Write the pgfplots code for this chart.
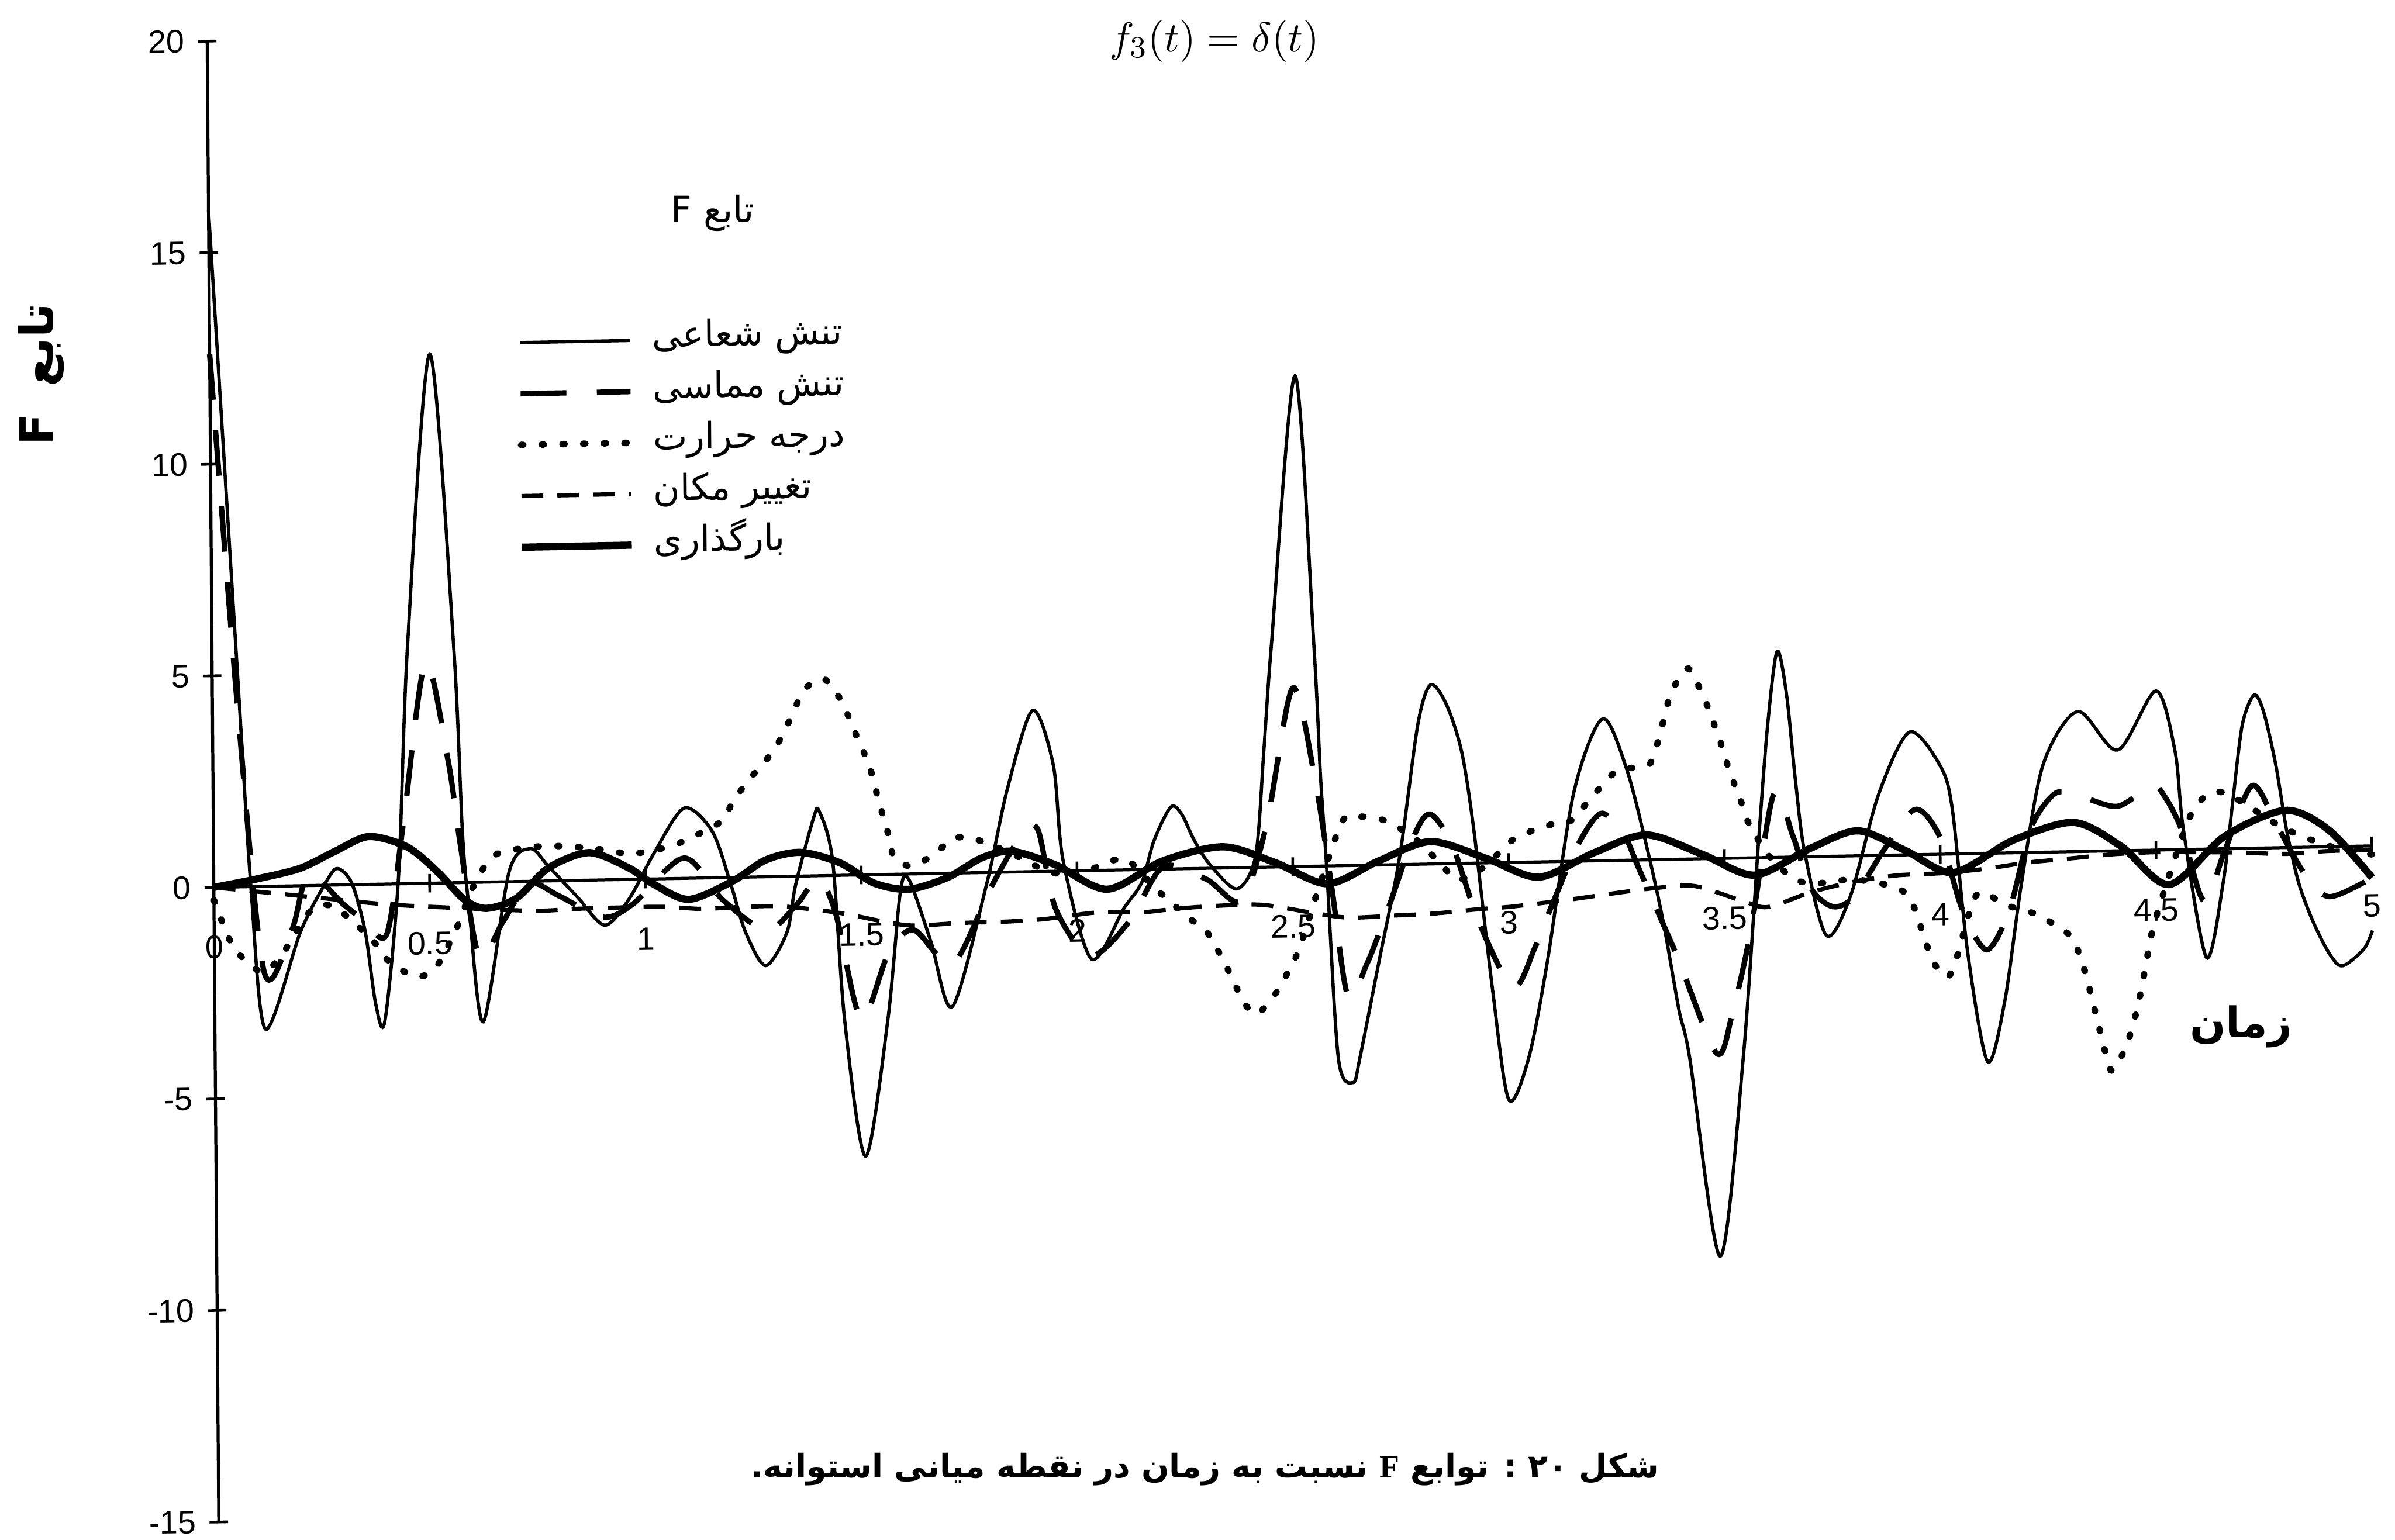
\documentclass[border=0pt]{standalone}
\usepackage{fontspec}
\usepackage{pgfplots}
\pgfplotsset{compat=1.18}
\setmainfont{Liberation Sans}
\newfontfamily\arabicfont[Script=Arabic]{DejaVu Sans}
\newfontfamily\seriffont{Liberation Serif}
\TeXXeTstate=1

\begin{document}
\begin{tikzpicture}
\useasboundingbox (0,0) rectangle (22cm,14.143cm);
% the printed page sits slightly skewed: the time axis climbs about 1.1 degrees,
% the value axis leans about 0.45 degrees; the axis is drawn with the same skew
\begin{scope}[transform canvas={cm={0.99982,0.0192,-0.00785,0.99997,(0.04738cm,-0.03753cm)}}]
\begin{axis}[
  at={(1.964cm,5.991cm)}, anchor=origin,
  scale only axis, width=19.826cm, height=13.604cm,
  xmin=0, xmax=5, ymin=-15, ymax=20,
  enlargelimits=false, clip=false,
  axis lines=middle, axis line style={-, line width=0.8pt},
  hide obscured x ticks=false, hide obscured y ticks=false,
  xtick={0,0.5,1,1.5,2,2.5,3,3.5,4,4.5,5},
  xticklabels={0,0.5,1,1.5,2,2.5,3,3.5,4,4.5,5},
  ytick={-15,-10,-5,0,5,10,15,20},
  yticklabels={-15,-10,-5,0,5,10,15,20},
  tick align=center, major tick length=0.17cm,
  tick style={line width=0.7pt, black},
  xticklabel style={anchor=center, yshift=-0.466cm, font=\fontsize{8.5}{10}\selectfont},
  yticklabel style={anchor=east, xshift=0cm, font=\fontsize{8.5}{10}\selectfont},
  legend style={at={(axis cs:0.683,13.32)}, anchor=north west, draw=none, fill=none,
    font=\fontsize{9.5}{11}\selectfont, row sep=0.17cm, column sep=0.17cm,
    nodes={inner sep=0pt, text height=0.22cm, text depth=0.08cm}},
  legend cell align=left,
  legend image code/.code={\draw[#1] (0cm,0cm) -- (1.01cm,0cm);},
]
% radial stress
\addplot[black, line width=0.85pt, smooth, tension=0.5] coordinates {
(0,16.0) (0.059,4.99) (0.086,-0.02) (0.117,-3.37) (0.2,-1.09) (0.257,0.02) (0.286,0.39)
(0.32,0.03) (0.35,-1.12) (0.373,-2.83) (0.394,-3.23) (0.428,0.16) (0.453,5.6) (0.51,12.5)
(0.56,5.59) (0.577,1.18) (0.591,-0.61) (0.622,-3.3) (0.684,0.22) (0.734,0.77) (0.776,0.34)
(0.841,-0.38) (0.905,-1.07) (0.962,-0.46) (1.02,0.6) (1.091,1.66) (1.156,1.09) (1.198,-0.17)
(1.231,-1.3) (1.277,-2.1) (1.327,-1.32) (1.348,-0.2) (1.391,1.38) (1.404,1.52) (1.434,0.35)
(1.459,-3.42) (1.505,-6.65) (1.559,-3.44) (1.59,-0.45) (1.61,-0.12) (1.66,-1.6) (1.709,-3.15)
(1.79,-0.29) (1.84,1.96) (1.9,3.81) (1.947,2.51) (1.968,0.25) (2.032,-2.09) (2.108,-0.91)
(2.15,-0.3) (2.179,0.68) (2.218,1.46) (2.243,1.3) (2.272,0.67) (2.307,0.1) (2.37,-0.5)
(2.414,0.27) (2.435,2.75) (2.454,5.2) (2.514,11.6) (2.553,5.19) (2.566,2.09) (2.578,0.04)
(2.602,-4.54) (2.636,-5.13) (2.652,-4.55) (2.698,-2.28) (2.748,0.2) (2.792,3.29) (2.822,4.23)
(2.858,3.78) (2.893,2.65) (2.92,0.79) (2.96,-2.95) (2.996,-5.6) (3.043,-4.63) (3.088,-2.36)
(3.152,1.61) (3.22,3.35) (3.275,2.16) (3.323,0.19) (3.358,-1.52) (3.392,-3.56) (3.416,-4.7)
(3.483,-9.4) (3.54,-4.73) (3.58,0.46) (3.603,3.17) (3.626,4.87) (3.647,3.84) (3.666,1.81)
(3.686,0.11) (3.735,-1.87) (3.792,-0.93) (3.858,1.43) (3.931,2.9) (4.002,2.08) (4.029,1.05)
(4.062,-2.34) (4.106,-4.92) (4.147,-3.5) (4.188,-0.71) (4.24,2.07) (4.321,3.31) (4.413,2.38)
(4.503,3.76) (4.546,2.32) (4.564,0.46) (4.615,-2.56) (4.655,-0.8) (4.678,1.05) (4.702,2.91)
(4.73,3.62) (4.752,3.21) (4.779,1.96) (4.803,0.41) (4.83,-0.84) (4.863,-1.77) (4.9,-2.53)
(4.93,-2.82) (4.98,-2.43) (5.0,-2.0)
};
\addlegendentry{\arabicfont\beginR تنش شعاعی\endR}
% tangential stress
\addplot[black, line width=1.4pt, dash pattern=on 0.42cm off 0.28cm, smooth, tension=0.5] coordinates {
(0,12.6) (0.06,4.0) (0.115,-2.02) (0.18,-1.04) (0.22,0.26) (0.3,-0.46) (0.35,-0.87)
(0.40,-1.18) (0.44,1.41) (0.494,5.2) (0.545,2.89) (0.572,0.89) (0.613,-1.74) (0.67,-0.93)
(0.73,-0.05) (0.8,-0.36) (0.9,-0.88) (0.97,-0.59) (1.09,0.48) (1.18,-0.54) (1.28,-1.26)
(1.35,-0.67) (1.40,-0.08) (1.44,-0.89) (1.497,-3.4) (1.56,-1.91) (1.62,-1.32) (1.71,-2.14)
(1.8,-0.36) (1.87,0.83) (1.91,0.99) (1.95,-0.89) (2.03,-2.01) (2.12,-1.22) (2.2,0.06)
(2.3,-0.26) (2.38,-0.78) (2.44,1.01) (2.503,4.22) (2.554,1.99) (2.59,-0.52) (2.625,-3.07)
(2.67,-2.33) (2.72,-1.04) (2.78,0.64) (2.819,1.18) (2.87,0.43) (2.93,-1.39) (3.008,-2.95)
(3.06,-2.01) (3.1,-1.02) (3.16,0.37) (3.216,1.12) (3.27,0.55) (3.3,-0.16) (3.39,-2.33)
(3.478,-4.6) (3.515,-3.7) (3.56,-1.71) (3.615,1.48) (3.66,0.47) (3.7,-0.74) (3.75,-1.19)
(3.8,-0.96) (3.87,0.13) (3.943,1.07) (4.0,0.4) (4.05,-1.31) (4.106,-2.28) (4.16,-1.33)
(4.21,0.56) (4.264,1.36) (4.31,1.37) (4.41,1.05) (4.49,1.52) (4.52,1.28) (4.56,0.46)
(4.61,-1.22) (4.66,-0.03) (4.724,1.48) (4.78,0.54) (4.84,-0.57) (4.9,-1.18) (5.0,-0.75)
};
\addlegendentry{\arabicfont\beginR تنش مماسی\endR}
% temperature
\addplot[black, line width=1.7pt, line cap=round, dash pattern=on 0.02cm off 0.17cm, smooth, tension=0.5] coordinates {
(0,-0.3) (0.04,-1.34) (0.08,-1.82) (0.115,-2.02) (0.155,-1.65) (0.184,-1.18) (0.22,-0.64)
(0.26,-0.46) (0.31,-0.76) (0.374,-1.41) (0.403,-1.81) (0.463,-2.19) (0.51,-2.03) (0.56,-1.11)
(0.6,-0.12) (0.645,0.59) (0.7,0.76) (0.76,0.82) (0.82,0.81) (0.865,0.76) (0.92,0.69)
(0.966,0.6) (1.05,0.74) (1.1,0.93) (1.174,1.31) (1.206,1.81) (1.242,2.31) (1.276,2.68)
(1.306,3.09) (1.331,3.56) (1.352,4.03) (1.377,4.46) (1.417,4.65) (1.452,4.21) (1.472,3.79)
(1.49,3.33) (1.511,2.82) (1.528,2.33) (1.539,1.85) (1.552,1.37) (1.566,0.86) (1.577,0.40)
(1.62,0.18) (1.68,0.55) (1.715,0.83) (1.765,0.79) (1.85,0.43) (1.93,0.01) (2.0,-0.1)
(2.06,0.14) (2.115,0.24) (2.183,-0.47) (2.258,-1.16) (2.3,-1.51) (2.34,-2.24) (2.386,-3.21)
(2.415,-3.46) (2.455,-3.03) (2.482,-2.58) (2.514,-1.93) (2.56,-0.51) (2.617,1.07) (2.66,1.15)
(2.713,1.05) (2.78,0.64) (2.84,0.03) (2.88,-0.38) (2.93,-0.19) (2.98,0.25) (3.01,0.53)
(3.05,0.72) (3.1,0.88) (3.147,0.97) (3.19,1.46) (3.25,2.1) (3.3,2.19) (3.33,2.28)
(3.35,2.85) (3.375,3.8) (3.397,4.26) (3.42,4.5) (3.445,4.05) (3.465,3.57) (3.481,3.1)
(3.497,2.62) (3.514,2.04) (3.537,1.42) (3.554,0.88) (3.6,0.08) (3.65,-0.43) (3.7,-0.64)
(3.8,-0.56) (3.9,-0.78) (3.935,-1.16) (3.967,-2.14) (3.989,-2.66) (4.016,-2.9) (4.037,-2.43)
(4.085,-0.96) (4.15,-1.23) (4.221,-1.46) (4.264,-1.72) (4.304,-2.04) (4.331,-2.76)
(4.356,-3.78) (4.384,-4.95) (4.397,-5.18) (4.43,-4.55) (4.458,-3.55) (4.487,-2.04)
(4.5,-1.55) (4.54,-0.31) (4.58,0.79) (4.62,1.29) (4.66,1.32) (4.72,0.96) (4.8,0.44)
(4.9,0.02) (5.0,-0.2)
};
\addlegendentry{\arabicfont\beginR درجه حرارت\endR}
% displacement
\addplot[black, line width=1.1pt, dash pattern=on 0.2cm off 0.13cm, smooth, tension=0.5] coordinates {
(0,0) (0.2,-0.24) (0.4,-0.48) (0.6,-0.62) (0.75,-0.7) (0.85,-0.67) (1.03,-0.66) (1.13,-0.73)
(1.23,-0.7) (1.32,-0.71) (1.45,-0.89) (1.55,-1.11) (1.62,-1.22) (1.73,-1.18) (1.83,-1.17)
(1.92,-1.13) (2.05,-0.99) (2.15,-1.01) (2.23,-0.94) (2.33,-0.89) (2.43,-0.89) (2.55,-1.11)
(2.63,-1.23) (2.74,-1.2) (2.83,-1.17) (2.93,-1.09) (3.0,-1.05) (3.08,-0.97) (3.145,-0.9)
(3.24,-0.78) (3.34,-0.67) (3.43,-0.64) (3.54,-1.01) (3.6,-1.17) (3.7,-0.84) (3.8,-0.61)
(3.9,-0.48) (4.0,-0.45) (4.1,-0.37) (4.2,-0.24) (4.3,-0.16) (4.4,-0.08) (4.5,-0.05)
(4.6,-0.07) (4.7,-0.1) (4.8,-0.15) (4.9,-0.1) (5.0,-0.1)
};
\addlegendentry{\arabicfont\beginR تغییر مکان\endR}
% loading
\addplot[black, line width=1.9pt, smooth, tension=0.5] coordinates {
(0,0) (0.1,0.18) (0.2,0.41) (0.28,0.79) (0.36,1.13) (0.45,0.86) (0.52,0.25) (0.58,-0.4)
(0.63,-0.62) (0.7,-0.4) (0.776,0.31) (0.87,0.65) (0.96,0.28) (1.02,-0.13) (1.1,-0.5)
(1.2,-0.1) (1.28,0.4) (1.36,0.56) (1.45,0.3) (1.53,-0.2) (1.61,-0.36) (1.7,-0.1) (1.78,0.35)
(1.85,0.49) (1.95,0.15) (2.07,-0.45) (2.2,0.2) (2.34,0.5) (2.46,0.1) (2.58,-0.42) (2.7,0.1)
(2.82,0.53) (2.95,0.1) (3.07,-0.36) (3.2,0.2) (3.32,0.59) (3.45,0.1) (3.57,-0.41) (3.7,0.2)
(3.81,0.59) (3.92,0.1) (4.03,-0.44) (4.17,0.3) (4.31,0.69) (4.42,0.1) (4.53,-0.82) (4.66,0.3)
(4.8,0.88) (4.9,0.4) (5.0,-0.75)
};
\addlegendentry{\arabicfont\beginR بارگذاری\endR}
\end{axis}
\end{scope}
% headings and labels
\node[font=\fontsize{11}{13}\selectfont] at (11.155cm,13.765cm) {$f_3(t)=\delta(t)$};
\node[font=\arabicfont\fontsize{9.5}{11}\selectfont] at (6.546cm,12.186cm) {\beginR تابع F\endR};
\node[rotate=90, font=\arabicfont\bfseries\fontsize{12}{14}\selectfont] at (0.379cm,10.705cm) {\beginR تابع\hspace{0.25cm}F\endR};
\node[font=\arabicfont\bfseries\fontsize{11}{13}\selectfont] at (20.584cm,4.71cm) {\beginR زمان\endR};
\node[font=\arabicfont\bfseries\fontsize{8.5}{10}\selectfont] at (11.07cm,0.645cm)
  {\beginR شکل \beginL ۲۰\endL{} : توابع {\seriffont\bfseries F} نسبت به زمان در نقطه میانی استوانه.\endR};
\end{tikzpicture}
\end{document}
